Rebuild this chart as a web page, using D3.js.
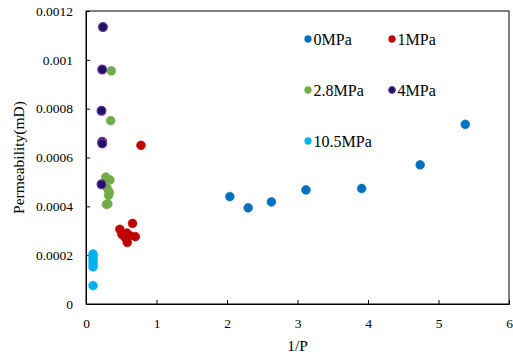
<!DOCTYPE html>
<html>
<head>
<meta charset="utf-8">
<script src="https://cdn.jsdelivr.net/npm/d3@7/dist/d3.min.js"></script>
<style>
  body { margin: 0; background: #fff; }
  svg { display: block; font-family: "Liberation Serif", "Times New Roman", serif; }
</style>
</head>
<body>
<div id="chart"></div>
<script>
const width = 513
const height = 360

// series data: [1/P, permeability(mD)]
const seriesNames = ['0MPa', '1MPa', '2.8MPa', '4MPa', '10.5MPa']

const p0 = [[2.04, 0.00044], [2.30, 0.000394], [2.63, 0.000418], [3.12, 0.000467],
            [3.91, 0.000473], [4.74, 0.00057], [5.38, 0.000736]]
const p1 = [[0.78, 0.00065], [0.48, 0.000306], [0.66, 0.00033], [0.51, 0.000285],
            [0.58, 0.00029], [0.62, 0.00028], [0.70, 0.000276], [0.585, 0.000252], [0.55, 0.000274]]
const p28 = [[0.36, 0.000955], [0.35, 0.000751], [0.28, 0.00052], [0.34, 0.000508],
             [0.30, 0.000475], [0.33, 0.000458], [0.32, 0.000445], [0.31, 0.00041], [0.29, 0.000408]]
const p4 = [[0.24, 0.001134], [0.23, 0.00096], [0.22, 0.000791], [0.23, 0.000664],
            [0.23, 0.000657], [0.22, 0.00049]]
const p105 = [[0.1, 0.000205], [0.1, 0.000193], [0.1, 0.00018], [0.1, 0.000165],
              [0.1, 0.000152], [0.1, 0.000075]]

const xTicks = [0, 1, 2, 3, 4, 5, 6]
const yTicks = [0, 0.0002, 0.0004, 0.0006, 0.0008, 0.001, 0.0012]
const yTickLabels = ['0', '0.0002', '0.0004', '0.0006', '0.0008', '0.001', '0.0012']

const fills = ['#0070C0', '#C00000', '#70AD47', '#1B1464', '#00B0F0']
const strokes = ['#0070C0', '#C00000', '#70AD47', '#7030A0', '#00B0F0']

const series = [p0, p1, p28, p4, p105].map((pts, i) => ({name: seriesNames[i], pts: pts, i: i}))

const margin = {left: 86, right: 4, top: 11, bottom: 56}

let svg = d3.select('#chart').append('svg')
    .attr('width', width)
    .attr('height', height)

let x = d3.scaleLinear().domain([0, 6]).range([margin.left, width - margin.right])
let y = d3.scaleLinear().domain([0, 0.0012]).range([height - margin.bottom, margin.top])

// plot frame
svg.append('rect')
    .attr('x', x(0)).attr('y', y(0.0012))
    .attr('width', x(6) - x(0)).attr('height', y(0) - y(0.0012))
    .attr('fill', 'none').attr('stroke', '#000').attr('stroke-width', 1)

// axes, ticks pointing inward
let xAxis = svg.append('g')
    .attr('transform', `translate(0,${y(0)})`)
    .call(d3.axisBottom(x).tickValues(xTicks).tickSize(-4).tickPadding(14).tickFormat(d3.format('d')))
let yAxis = svg.append('g')
    .attr('transform', `translate(${x(0)},0)`)
    .call(d3.axisLeft(y).tickValues(yTicks).tickSize(-4).tickPadding(13).tickFormat((d, i) => yTickLabels[i]))

for (let ax of [xAxis, yAxis]){
    ax.select('.domain').attr('stroke', '#000')
    ax.selectAll('.tick line').attr('stroke', '#000')
    ax.selectAll('.tick text')
        .attr('fill', '#000')
        .style('font-size', '13.5px')
        .style('font-family', '"Liberation Serif", serif')
}

// axis titles
svg.append('text')
    .attr('x', x(3)).attr('y', 351)
    .attr('text-anchor', 'middle')
    .style('font-size', '15.5px')
    .text('1/P')

svg.append('text')
    .attr('transform', `translate(24,${(y(0) + y(0.0012)) / 2}) rotate(-90)`)
    .attr('text-anchor', 'middle')
    .style('font-size', '15.5px')
    .text('Permeability(mD)')

// points
let groups = svg.append('g')
    .selectAll('g')
    .data(series)
    .join('g')

groups.selectAll('circle')
    .data(s => s.pts.map(p => ({p: p, i: s.i})))
    .join('circle')
    .attr('cx', d => x(d.p[0]))
    .attr('cy', d => y(d.p[1]))
    .attr('r', 4.4)
    .attr('fill', d => fills[d.i])
    .attr('stroke', d => strokes[d.i])
    .attr('stroke-width', d => d.i == 3 ? 1.2 : 0.6)

// legend
const legendPos = [[308, 39], [392, 39], [308, 90], [392, 90], [308, 141]]
let legend = svg.append('g')
    .selectAll('g')
    .data(series)
    .join('g')
    .attr('transform', d => `translate(${legendPos[d.i][0]},${legendPos[d.i][1]})`)

legend.append('circle')
    .attr('r', 3.4)
    .attr('fill', d => fills[d.i])
    .attr('stroke', d => strokes[d.i])
    .attr('stroke-width', d => d.i == 3 ? 1 : 0.5)

legend.append('text')
    .attr('x', 5.5)
    .attr('y', 5.5)
    .style('font-size', '16px')
    .text(d => d.name)
</script>
</body>
</html>
